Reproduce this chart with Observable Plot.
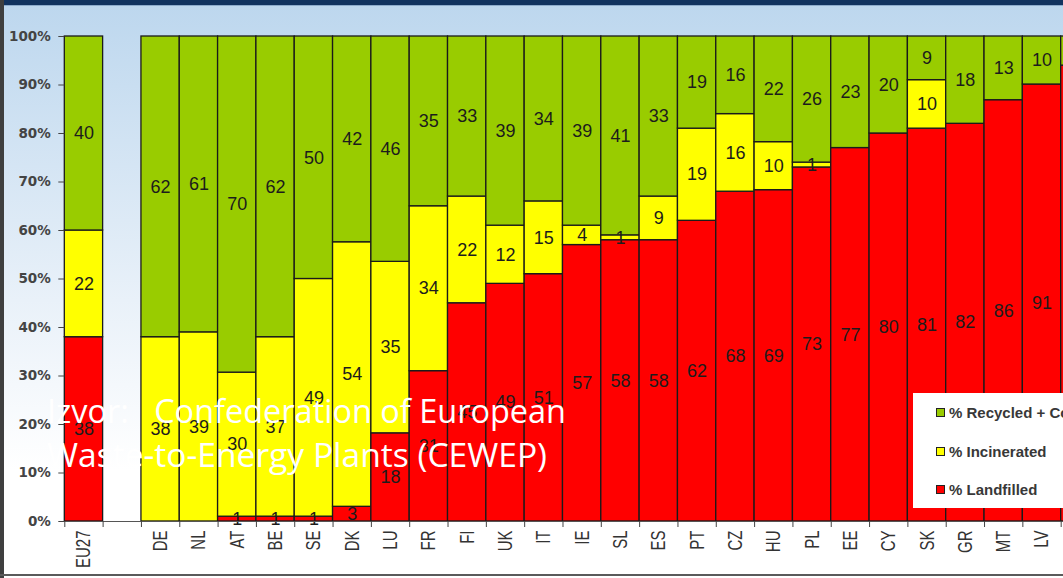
<!DOCTYPE html>
<html>
<head>
<meta charset="utf-8">
<script src="https://cdn.jsdelivr.net/npm/d3@7"></script>
<script src="https://cdn.jsdelivr.net/npm/@observablehq/plot@0.6"></script>
<style>
  html, body { margin: 0; padding: 0; overflow: hidden; background: #fff; }
  #wrap {
    position: relative; width: 1063px; height: 578px; overflow: hidden;
    background: linear-gradient(to bottom, #12335f 0px, #12335f 5px, #8eaccc 5px, #8eaccc 6px, #bdd7ee 6px, #e9f1f9 300px, #ffffff 470px, #ffffff 100%);
  }
  #chart { position: absolute; left: 0; top: 0; }
  #leftstrip { position: absolute; left: 0; top: 0; width: 4px; height: 578px; background: #3f3f3f; }
  #bottomline { position: absolute; left: 0; top: 574px; width: 1063px; height: 2px; background: #5a5a5a; }
  #legend { position: absolute; left: 913px; top: 393px; width: 170px; height: 115px; background: #fff; }
  .lg-row { position: absolute; left: 0; height: 20px; display: flex; align-items: center; white-space: nowrap; }
  .lg-sw { position: absolute; left: 23px; width: 7px; height: 7px; border: 1px solid #222; }
  .lg-tx { position: absolute; left: 36px; font: bold 15px "Liberation Sans", Arial, sans-serif; color: #383838; }
</style>
</head>
<body>
<div id="wrap">
  <div id="chart"></div>
  <div id="leftstrip"></div>
  <div id="bottomline"></div>
  <div id="legend"></div>
</div>
<script>
// ---- data ----
const countries = ["EU27","DE","NL","AT","BE","SE","DK","LU","FR","FI","UK","IT","IE","SL","ES","PT","CZ","HU","PL","EE","CY","SK","GR","MT","LV","LT"];
const landfilled  = [38, 0, 0, 1, 1, 1, 3,18,31,45,49,51,57,58,58,62,68,69,73,77,80,81,82,86,91,94];
const incinerated = [22,38,39,30,37,49,54,35,34,22,12,15, 4, 1, 9,19,16,10, 1, 0, 0,10, 0, 0, 0, 0];
const recycled    = [40,62,61,70,62,50,42,46,35,33,39,34,39,41,33,19,16,22,26,23,20, 9,18,13,10, 6];
const types = ["Landfilled","Incinerated","Recycled"];
const typeColors = ["#ff0000","#ffff00","#99cc00"];
const legendLabels = ["% Recycled + Composted","% Incinerated","% Landfilled"];
const legendTypes = ["Recycled","Incinerated","Landfilled"];
const yTicks = [0,0.1,0.2,0.3,0.4,0.5,0.6,0.7,0.8,0.9,1];
const sourceLines = ["Izvor:\u00a0\u00a0\u00a0Confederation of European", "Waste-to-Energy Plants (CEWEP)"];

// ---- table ----
const rows = [];
countries.forEach((c, i) => {
  rows.push({country: c, type: "Landfilled", value: landfilled[i]});
  rows.push({country: c, type: "Incinerated", value: incinerated[i]});
  rows.push({country: c, type: "Recycled", value: recycled[i]});
});
const xDomain = [countries[0], " ", ...countries.slice(1)];
const step = (1063 - 64.3 + 36) / xDomain.length;

const chart = Plot.plot({
  width: 1063,
  height: 578,
  marginLeft: 64.3,
  marginRight: -36,
  marginTop: 36,
  marginBottom: 57,
  style: {background: "transparent", overflow: "hidden", fontFamily: "'Liberation Sans', Arial, sans-serif"},
  x: {domain: xDomain, padding: 0, round: false, axis: null, label: null},
  y: {domain: [0, 1], axis: null, label: null},
  color: {domain: types, range: typeColors},
  marks: [
    Plot.barY(rows, Plot.stackY({
      x: "country", y: "value", z: "type", fill: "type",
      order: types, offset: "normalize",
      stroke: "#1a1a1a", strokeWidth: 1.3
    })),
    Plot.text(rows.filter(d => d.value > 0), Plot.stackY({
      x: "country", y: "value", z: "type",
      order: types, offset: "normalize",
      text: "value", fill: "#1c1c1c", fontSize: 18,
      fontFamily: "'Liberation Sans', Arial, sans-serif"
    })),
    Plot.ruleY([0], {stroke: "#555"}),
    Plot.axisY({
      ticks: yTicks, tickFormat: d3.format(".0%"), tickSize: 6, tickPadding: 8,
      fontSize: 13.5, fontWeight: "bold", fontFamily: "'DejaVu Sans', sans-serif",
      color: "#444", label: null
    }),
    Plot.axisX({
      tickSize: 0, tickPadding: 9, tickRotate: -90, fontSize: 15,
      color: "#333", label: null
    }),
    Plot.axisX({
      tickSize: 6, tickFormat: () => "", dx: -step / 2, color: "#444", label: null
    })
  ]
});
document.getElementById("chart").appendChild(chart);

// widen rotated x tick labels to match the reference's look
d3.select(chart).selectAll('g[aria-label="x-axis tick label"] text').each(function() {
  const t = this.getAttribute("transform");
  if (t && t.includes("rotate")) this.setAttribute("transform", t + " scale(1,1.35)");
});

// source overlay text
const src = d3.select(chart).append("g").attr("fill", "#ffffff")
  .attr("text-anchor", "start")
  .attr("font-family", "'Open Sans', sans-serif").attr("font-size", 32);
const srcBase = [423, 467];
const srcLen = [519, 500];
sourceLines.forEach((s, i) => {
  src.append("text").attr("x", 47).attr("y", srcBase[i])
    .attr("text-anchor", "start")
    .attr("textLength", srcLen[i]).attr("lengthAdjust", "spacingAndGlyphs")
    .style("white-space", "pre").text(s);
});

// legend
const lg = d3.select("#legend");
const lgCenters = [19, 58, 96];
legendTypes.forEach((t, i) => {
  const row = lg.append("div").attr("class", "lg-row").style("top", (lgCenters[i] - 10) + "px").style("width", "170px");
  row.append("div").attr("class", "lg-sw").style("background", typeColors[types.indexOf(t)]);
  row.append("div").attr("class", "lg-tx").text(legendLabels[i]);
});
</script>
</body>
</html>
